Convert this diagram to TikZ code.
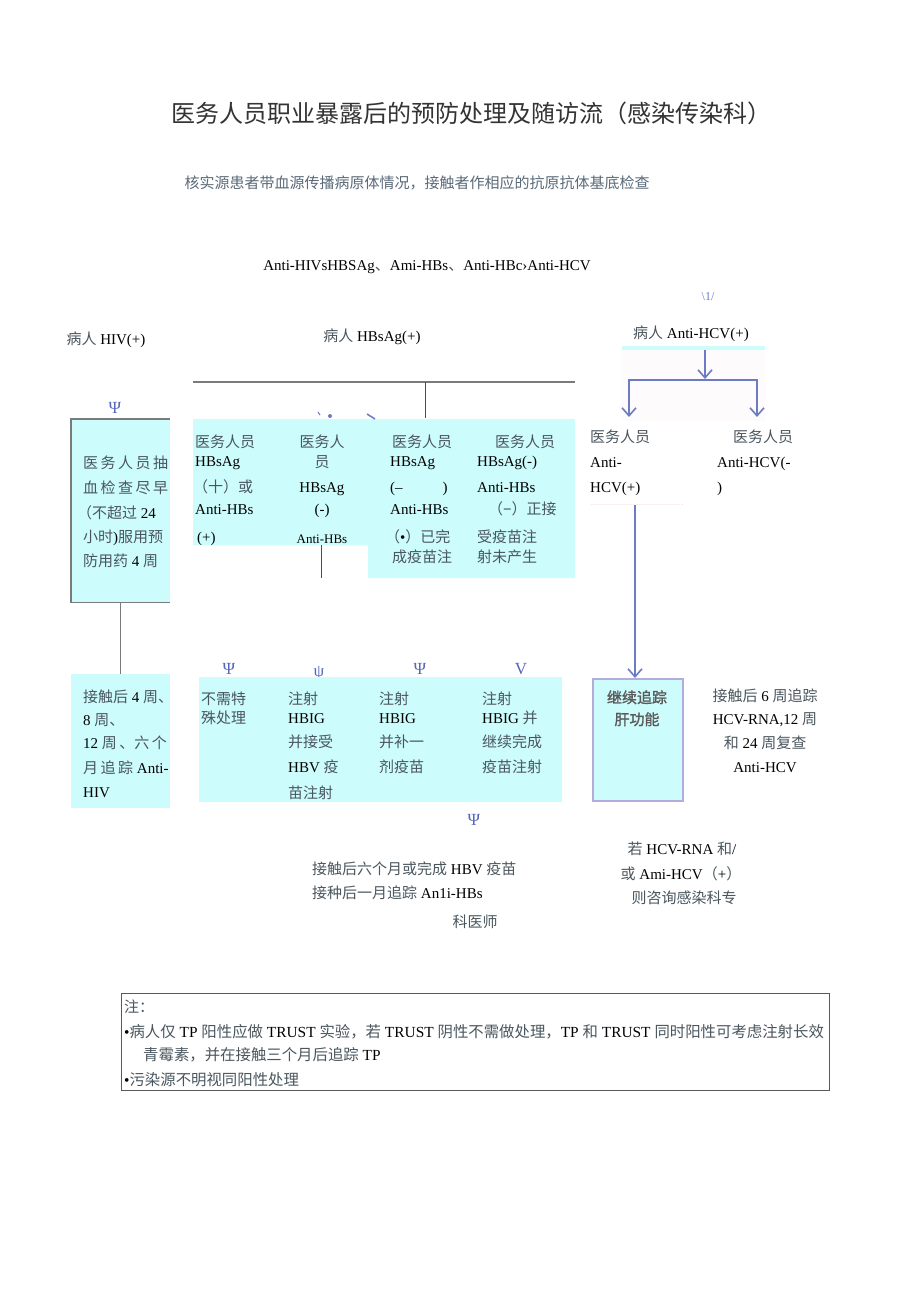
\documentclass[tikz,border=0pt]{standalone}
\usepackage{fontspec}
\setmainfont{Liberation Serif}
\newfontfamily\latfont{Liberation Serif}
\newfontfamily\cjkN[Color=4A565E]{Noto Sans CJK SC}
\newfontfamily\cjkT[Color=333333]{Noto Sans CJK SC}
\newfontfamily\cjkS[Color=5A6A78]{Noto Sans CJK SC}
\newfontfamily\cjkB[Color=5A5A5A,FakeBold=1.5]{Noto Sans CJK SC}
\usetikzlibrary{arrows.meta}
\def\cjkfont{\cjkN}
% automatic CJK font switching
\XeTeXinterchartokenstate=1
\newXeTeXintercharclass\CJKcls
\newcount\cjkc
\def\setcjkrange#1#2{\cjkc=#1\relax\loop\XeTeXcharclass\cjkc=\CJKcls\relax\ifnum\cjkc<#2\relax\advance\cjkc by 1\relax\repeat}
\setcjkrange{"3000}{"303F}
\setcjkrange{"4E00}{"9FFF}
\setcjkrange{"FF00}{"FFEF}
\XeTeXinterchartoks 0 \CJKcls = {\cjkfont}
\XeTeXinterchartoks 4095 \CJKcls = {\cjkfont}
\XeTeXinterchartoks \CJKcls 0 = {\latfont}
\XeTeXinterchartoks \CJKcls 4095 = {\latfont}
\definecolor{cy}{HTML}{CCFCFC}
\definecolor{ab}{HTML}{6B7BC4}
\definecolor{gl}{HTML}{7A7A7A}
\definecolor{psiblue}{HTML}{5566BB}
\definecolor{lav}{HTML}{B4ACDC}
\definecolor{pale}{HTML}{FDFBFC}
\begin{document}
\begin{tikzpicture}[x=1pt,y=-1pt,
  tx/.style={inner sep=0pt,anchor=west,font=\fontsize{15}{18}\selectfont,text height=13pt,text depth=3pt},
  txc/.style={tx,anchor=center},
  psi/.style={txc,text=psiblue,font=\fontsize{17}{18}\selectfont},
  cybox/.style={fill=cy,draw=none,inner sep=0pt,anchor=north west},
  gline/.style={draw=gl,line width=1.3pt},
  barr/.style={draw=ab,line width=2pt,-{Straight Barb[length=8pt,width=14pt,line width=1.6pt]}},
  bline/.style={draw=ab,line width=2pt}]
\useasboundingbox[fill=white] (0,0) rectangle (920,1301);

% headings
\node[txc,font=\fontsize{24}{28}\selectfont] (title) at (471,117) {\def\cjkfont{\cjkT}医务人员职业暴露后的预防处理及随访流（感染传染科）};
\node[txc] (sub) at (417,183) {\def\cjkfont{\cjkS}核实源患者带血源传播病原体情况，接触者作相应的抗原抗体基底检查};
\node[txc] (abl) at (427,265) {Anti-HIVsHBSAg、Ami-HBs、Anti-HBc›Anti-HCV};
\node[txc,font=\fontsize{12}{13}\selectfont,text=ab] (mark) at (708,295) {\textbackslash 1/};

\node[txc] (hiv) at (106,339) {病人 HIV(+)};
\node[txc] (hbv) at (372,336) {病人 HBsAg(+)};
\node[txc] (hcv) at (691,333) {病人 Anti-HCV(+)};

% HBV branch line
\coordinate (hL) at (193,382);
\coordinate (hR) at (575,382);
\coordinate (hM) at (425,382);
\coordinate (hMb) at (425,418);
\draw[gline] (hL) -- (hR);
\draw[draw=gray!60!black,line width=1pt] (hM) -- (hMb);

% HCV branch
\fill[pale] (622,350) rectangle (765,421);
\fill[cy] (622,346) rectangle (765,350);
\coordinate (c0) at (705,350);
\coordinate (c1) at (705,379);
\coordinate (bl) at (629,380);
\coordinate (br) at (757,380);
\coordinate (blA) at (629,417);
\coordinate (brA) at (757,417);
\draw[barr] (c0) -- (c1);
\draw[bline,line cap=rect] (bl) -- (br);
\draw[barr] (bl) -- (blA);
\draw[barr] (br) -- (brA);

% HIV branch
\node[psi] (p0) at (115,408) {Ψ};
\node[cybox,minimum width=99pt,minimum height=183pt] (hivbox) at (71,419) {};
\draw[draw=gl,line width=1.5pt] (hivbox.north east) -- (hivbox.north west) -- (hivbox.south west) -- (hivbox.south east);
\node[tx] (hA1) at (83,463) {医\,务\,人\,员\,抽};
\node[tx] (hA2) at (83,488) {血\,检\,查\,尽\,早};
\node[tx] (hA3) at (77,513) {（不超过 24};
\node[tx] (hA4) at (83,537) {小时)服用预};
\node[tx] (hA5) at (83,561) {防用药 4 周};

\node[cybox,minimum width=99pt,minimum height=134pt] (hivbox2) at (71,674) {};
\draw[gline] (hivbox.south) -- (hivbox2.north);
\node[tx] (hB1) at (83,697) {接触后 4 周、};
\node[tx] (hB2) at (83,720) {8 周、};
\node[tx] (hB3) at (83,743) {12 周\,、六\,个};
\node[tx] (hB4) at (83,768) {月\,追\,踪 Anti-};
\node[tx] (hB5) at (83,792) {HIV};

% HBV top box
\fill[cy] (193,419) -- (575,419) -- (575,578) -- (368,578) -- (368,545) -- (193,545) -- cycle;
\fill[ab] (330,416) circle (2pt);
\draw[ab,line width=1pt] (318,412) -- (320,415);
\draw[ab,line width=1.5pt] (367,414) -- (375,419);
\coordinate (c2t) at (321,545);
\coordinate (c2b) at (321,578);
\draw[draw=gray!60!black,line width=1pt] (c2t) -- (c2b);

\node[tx] (a1) at (195,442) {医务人员};
\node[tx] (a2) at (195,461) {HBsAg};
\node[tx] (a3) at (193,487) {（十）或};
\node[tx] (a4) at (195,509) {Anti-HBs};
\node[tx] (a5) at (197,537) {(+)};

\node[txc] (b1) at (322,442) {医务人};
\node[txc] (b2) at (322,462) {员};
\node[txc] (b3) at (322,487) {HBsAg};
\node[txc] (b4) at (322,509) {(-)};
\node[txc,font=\fontsize{13}{15}\selectfont] (b5) at (322,538) {Anti-HBs};

\node[tx] (c1t) at (392,442) {医务人员};
\node[tx] (c2x) at (390,461) {HBsAg};
\node[tx] (c3x) at (390,487) {(–\hspace{40pt})};
\node[tx] (c4x) at (390,509) {Anti-HBs};
\node[tx] (c5x) at (385,537) {（•）已完};
\node[tx] (c6x) at (392,557) {成疫苗注};

\node[tx] (d1) at (495,442) {医务人员};
\node[tx] (d2) at (477,461) {HBsAg(-)};
\node[tx] (d3) at (477,487) {Anti-HBs};
\node[tx] (d4) at (488,509) {（−）正接};
\node[tx] (d5) at (477,537) {受疫苗注};
\node[tx] (d6) at (477,557) {射未产生};

% HCV texts
\node[tx] (e1) at (590,437) {医务人员};
\node[tx] (e2) at (590,462) {Anti-};
\node[tx] (e3) at (590,487) {HCV(+)};
\node[tx] (f1) at (733,437) {医务人员};
\node[tx] (f2) at (717,462) {Anti-HCV(-};
\node[tx] (f3) at (717,487) {)};

\draw[draw=pink!40,densely dotted,line width=0.6pt] (591,504) -- (683,504);
\node[cybox,draw=lav,line width=1.5pt,minimum width=90pt,minimum height=122pt] (fbox) at (592,678) {};
\coordinate (va0) at (635,505);
\draw[barr] (va0) -- (va0 |- fbox.north);
\node[txc] (g1) at (637,698) {\def\cjkfont{\cjkB}继续追踪};
\node[txc] (g2) at (637,720) {\def\cjkfont{\cjkB}肝功能};

\node[txc] (h1) at (765,696) {接触后 6 周追踪};
\node[txc] (h2) at (765,719) {HCV-RNA,12 周};
\node[txc] (h3) at (765,743) {和 24 周复查};
\node[txc] (h4) at (765,767) {Anti-HCV};

% HBV bottom
\node[psi] (p1) at (229,669) {Ψ};
\node[psi] (p2) at (319,671) {ψ};
\node[psi] (p3) at (420,669) {Ψ};
\node[psi] (p4) at (521,669) {V};
\node[cybox,minimum width=363pt,minimum height=125pt] (hbvbox2) at (199,677) {};

\node[tx] (i1) at (201,699) {不需特};
\node[tx] (i2) at (201,718) {殊处理};

\node[tx] (j1) at (288,699) {注射};
\node[tx] (j2) at (288,718) {HBIG};
\node[tx] (j3) at (288,742) {并接受};
\node[tx] (j4) at (288,767) {HBV 疫};
\node[tx] (j5) at (288,793) {苗注射};

\node[tx] (k1) at (379,699) {注射};
\node[tx] (k2) at (379,718) {HBIG};
\node[tx] (k3) at (379,742) {并补一};
\node[tx] (k4) at (379,767) {剂疫苗};

\node[tx] (l1) at (482,699) {注射};
\node[tx] (l2) at (482,718) {HBIG 并};
\node[tx] (l3) at (482,742) {继续完成};
\node[tx] (l4) at (482,767) {疫苗注射};

\node[psi] (p5) at (474,820) {Ψ};
\node[tx] (m1) at (312,869) {接触后六个月或完成 HBV 疫苗};
\node[tx] (m2) at (312,893) {接种后一月追踪 An1i-HBs};
\node[txc] (m3) at (475,922) {科医师};

\node[txc] (n1) at (682,849) {若 HCV-RNA 和/};
\node[txc] (n2) at (681,874) {或 Ami-HCV（+）};
\node[txc] (n3) at (684,898) {则咨询感染科专};

% note box
\node[draw=gray!70!black,line width=1pt,inner sep=0pt,anchor=north west,minimum width=708pt,minimum height=97pt] (note) at (121,993) {};
\node[tx] (o1) at (124,1007) {注：};
\node[tx,font=\fontsize{15.4}{18}\selectfont] (o2) at (124,1032) {•病人仅 TP 阳性应做 TRUST 实验，若 TRUST 阴性不需做处理，TP 和 TRUST 同时阳性可考虑注射长效};
\node[tx,font=\fontsize{15.4}{18}\selectfont] (o3) at (143,1055) {青霉素，并在接触三个月后追踪 TP};
\node[tx,font=\fontsize{15.4}{18}\selectfont] (o4) at (124,1080) {•污染源不明视同阳性处理};
\end{tikzpicture}
\end{document}
